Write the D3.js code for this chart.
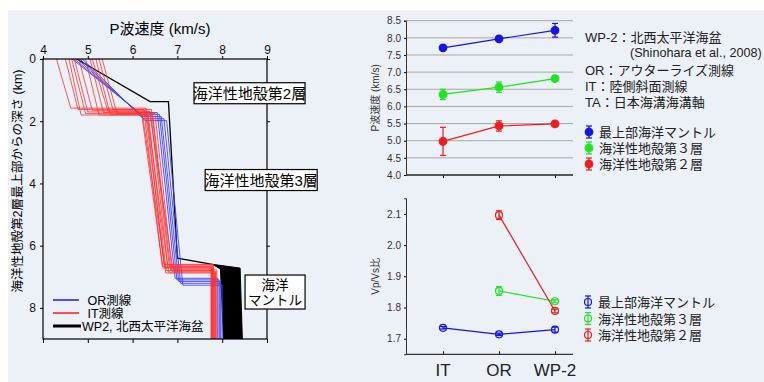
<!DOCTYPE html>
<html>
<head>
<meta charset="utf-8">
<script src="https://cdn.jsdelivr.net/npm/d3@7"></script>
<style>
  body { margin: 0; background: #fff; }
  svg text { font-family: "Liberation Sans", "Noto Sans CJK JP", sans-serif; }
</style>
</head>
<body>
<div id="chart"></div>
<script>
// ---- left panel: P-wave velocity profiles ----
const velTicks = [4, 5, 6, 7, 8, 9];
const depthTicks = [0, 2, 4, 6, 8];

// each profile: [v top, v bottom L2, depth L2, v top L3, v bottom L3, depth moho, v mantle]
const orProfiles = [
    [4.65, 6.15, 1.72, 6.55, 6.95, 7.05, 7.90],
    [4.70, 6.18, 1.78, 6.60, 6.99, 7.10, 7.93],
    [4.76, 6.22, 1.85, 6.64, 7.03, 7.15, 7.95],
    [4.82, 6.25, 1.92, 6.70, 7.07, 7.21, 7.97],
    [4.88, 6.28, 1.98, 6.76, 7.12, 7.27, 8.00]
];
const itProfiles = [
    [4.30, 4.62, 1.58, 6.30, 6.70, 6.60, 7.80],
    [4.50, 4.78, 1.62, 6.25, 6.66, 6.66, 7.76],
    [4.58, 4.85, 1.80, 6.35, 6.75, 6.80, 7.82],
    [4.64, 4.95, 1.75, 6.20, 6.68, 6.72, 7.78],
    [4.70, 5.00, 1.70, 6.40, 6.80, 6.85, 7.85],
    [4.80, 5.10, 1.65, 6.28, 6.72, 6.70, 7.75],
    [4.95, 5.25, 1.80, 6.45, 6.85, 6.78, 7.88],
    [5.05, 5.35, 1.72, 6.32, 6.78, 6.62, 7.80],
    [5.10, 5.45, 1.68, 6.38, 6.90, 6.75, 7.77],
    [5.18, 5.50, 1.78, 6.22, 6.74, 6.88, 7.83],
    [5.25, 5.56, 1.62, 6.42, 6.82, 6.66, 7.79],
    [5.32, 5.65, 1.75, 6.50, 6.88, 6.82, 7.86]
];
const wp2Line = [[4.75, 0], [6.39, 1.37], [6.80, 1.37], [7.00, 6.40], [7.78, 6.60]];
const wp2Mantle = [[7.78, 6.60], [8.40, 6.72], [8.45, 9], [8.03, 9], [7.96, 6.75]];

// label boxes: centre in data units (velocity, depth)
const layerLabels = [
    { text: ["海洋性地殻第2層"], v: 8.61, d: 1.10, w: 111, size: 15 },
    { text: ["海洋性地殻第3層"], v: 8.87, d: 3.89, w: 112, size: 15 },
    { text: ["海洋", "マントル"], v: 9.18, d: 7.49, w: 60, size: 13.5 }
];

// ---- right panels ----
const sites = ["IT", "OR", "WP-2"];
const seriesNames = ["最上部海洋マントル", "海洋性地殻第３層", "海洋性地殻第２層"];
const seriesColors = ["#1414e6", "#1ee61e", "#ee1c1c"];

const vpTicks = [4.0, 4.5, 5.0, 5.5, 6.0, 6.5, 7.0, 7.5, 8.0, 8.5];
const vpMantle = [7.71, 7.97, 8.22];
const vpMantleErr = [0.05, 0.02, 0.20];
const vpLayer3 = [6.35, 6.56, 6.81];
const vpLayer3Err = [0.15, 0.15, 0.03];
const vpLayer2 = [4.98, 5.43, 5.49];
const vpLayer2Err = [0.41, 0.15, 0.02];

const ratioTicks = [1.7, 1.8, 1.9, 2.0, 2.1];
const ratioMantle = [1.735, 1.714, 1.729];
const ratioMantleErr = [0.004, 0.004, 0.008];
const ratioLayer3 = [null, 1.853, 1.820];
const ratioLayer3Err = [0, 0.014, 0.005];
const ratioLayer2 = [null, 2.096, 1.789];
const ratioLayer2Err = [0, 0.014, 0.006];

const notes = [
    "WP-2：北西太平洋海盆",
    "(Shinohara et al., 2008)",
    "OR：アウターライズ測線",
    "IT：陸側斜面測線",
    "TA：日本海溝海溝軸"
];

const svg = d3.select("#chart").append("svg")
    .attr("width", 764)
    .attr("height", 382);

svg.append("rect")
    .attr("x", 8).attr("y", 10)
    .attr("width", 756).attr("height", 372)
    .attr("fill", "#ecf0f7");

// ================= left panel =================
let x = d3.scaleLinear().domain([4, 9]).range([43, 267]);
let y = d3.scaleLinear().domain([0, 9]).range([59, 339]);

svg.append("defs").append("clipPath").attr("id", "plotClip")
    .append("rect")
    .attr("x", x(4)).attr("y", y(0))
    .attr("width", x(9) - x(4)).attr("height", y(9) - y(0));

let line = d3.line().x(d => x(d[0])).y(d => y(d[1]));

function profilePoints(p) {
    return [[p[0], 0], [p[1], p[2]], [p[3], p[2]], [p[4], p[5]], [p[6], p[5]], [p[6], 9]];
}

let plot = svg.append("g").attr("clip-path", "url(#plotClip)");

plot.append("path")
    .attr("d", line(wp2Mantle) + "Z")
    .attr("fill", "#000")
    .attr("stroke", "#000");
plot.append("path")
    .attr("d", line(wp2Line))
    .attr("fill", "none")
    .attr("stroke", "#000")
    .attr("stroke-width", 1.3);

plot.selectAll(".or")
    .data(orProfiles)
    .enter()
    .append("path")
    .attr("class", "or")
    .attr("d", d => line(profilePoints(d)))
    .attr("fill", "none")
    .attr("stroke", "#3a3aff")
    .attr("stroke-opacity", 0.85)
    .attr("stroke-width", 1);

plot.selectAll(".it")
    .data(itProfiles)
    .enter()
    .append("path")
    .attr("class", "it")
    .attr("d", d => line(profilePoints(d)))
    .attr("fill", "none")
    .attr("stroke", "#ff3030")
    .attr("stroke-opacity", 0.8)
    .attr("stroke-width", 1);

// frame and axes
svg.append("rect")
    .attr("x", x(4)).attr("y", y(0))
    .attr("width", x(9) - x(4)).attr("height", y(9) - y(0))
    .attr("fill", "none")
    .attr("stroke", "#000")
    .attr("stroke-width", 1.2);

let topAxis = svg.append("g")
    .attr("transform", `translate(0, ${y(0)})`)
    .call(d3.axisTop(x).tickValues(velTicks).tickFormat(d3.format("d")).tickSize(3).tickPadding(2));
let leftAxis = svg.append("g")
    .attr("transform", `translate(${x(4)}, 0)`)
    .call(d3.axisLeft(y).tickValues(depthTicks).tickFormat(d3.format("d")).tickSize(3).tickPadding(4));
let bottomAxis = svg.append("g")
    .attr("transform", `translate(0, ${y(9)})`)
    .call(d3.axisBottom(x).tickValues(velTicks).tickSize(4).tickFormat(""));
let rightAxis = svg.append("g")
    .attr("transform", `translate(${x(9)}, 0)`)
    .call(d3.axisRight(y).tickValues(depthTicks).tickSize(3).tickFormat(""));

[topAxis, leftAxis, bottomAxis, rightAxis].forEach(a => {
    a.select(".domain").remove();
    a.selectAll("text").style("font-size", "12px").attr("fill", "#111");
});

svg.append("text")
    .attr("x", 160).attr("y", 34)
    .attr("text-anchor", "middle")
    .style("font-size", "15px")
    .text("P波速度 (km/s)");

svg.append("text")
    .attr("transform", "translate(22, 181) rotate(-90)")
    .attr("text-anchor", "middle")
    .style("font-size", "12.5px")
    .text("海洋性地殻第2層最上部からの深さ (km)");

// layer label boxes
layerLabels.forEach(lab => {
    let h = lab.text.length === 1 ? 21 : 34;
    let bx = x(lab.v) - lab.w / 2;
    let by = y(lab.d) - h / 2;
    svg.append("rect")
        .attr("x", bx).attr("y", by)
        .attr("width", lab.w).attr("height", h)
        .attr("fill", "#fff")
        .attr("stroke", "#000")
        .attr("stroke-width", 1.2);
    lab.text.forEach((t, i) => {
        svg.append("text")
            .attr("x", x(lab.v))
            .attr("y", by + (lab.text.length === 1 ? 16 : 15 + i * 14.5))
            .attr("text-anchor", "middle")
            .style("font-size", lab.size + "px")
            .text(t);
    });
});

// legend
let legendItems = [
    { label: " OR測線", color: "#3a3aff", w: 1.8 },
    { label: " IT測線", color: "#ff3a3a", w: 1.8 },
    { label: "WP2, 北西太平洋海盆", color: "#000", w: 3 }
];
legendItems.forEach((it, i) => {
    let ly = 300 + i * 13;
    svg.append("line")
        .attr("x1", 53).attr("x2", i === 2 ? 81 : 79)
        .attr("y1", ly).attr("y2", ly)
        .attr("stroke", it.color)
        .attr("stroke-width", it.w);
    svg.append("text")
        .attr("x", i === 2 ? 82 : 84)
        .attr("y", ly + 4.5)
        .style("font-size", "12.5px")
        .style("white-space", "pre")
        .text(it.label);
});

// ================= right panels =================
let xr = d3.scalePoint().domain(sites).range([443, 555]);
let axisLeftX = 406, axisRightX = 573;

function errorSeries(g, yScale, vals, errs, color, filled, r) {
    let pts = sites.map((s, i) => ({ s: s, v: vals[i], e: errs[i] })).filter(d => d.v !== null);
    g.append("path")
        .attr("d", d3.line().x(d => xr(d.s)).y(d => yScale(d.v))(pts))
        .attr("fill", "none")
        .attr("stroke", color)
        .attr("stroke-width", 1.2);
    pts.forEach(d => {
        g.append("line")
            .attr("x1", xr(d.s)).attr("x2", xr(d.s))
            .attr("y1", yScale(d.v - d.e)).attr("y2", yScale(d.v + d.e))
            .attr("stroke", color).attr("stroke-width", 1.2);
        [d.v - d.e, d.v + d.e].forEach(c => {
            g.append("line")
                .attr("x1", xr(d.s) - 3).attr("x2", xr(d.s) + 3)
                .attr("y1", yScale(c)).attr("y2", yScale(c))
                .attr("stroke", color).attr("stroke-width", 1.2);
        });
        g.append("circle")
            .attr("cx", xr(d.s)).attr("cy", yScale(d.v))
            .attr("r", r)
            .attr("fill", filled ? color : "none")
            .attr("stroke", color)
            .attr("stroke-width", 1.2);
    });
}

function legendMarker(g, lx, ly, color, filled, label) {
    g.append("line")
        .attr("x1", lx).attr("x2", lx)
        .attr("y1", ly - 6).attr("y2", ly + 6)
        .attr("stroke", color).attr("stroke-width", 1.2);
    [ly - 6, ly + 6].forEach(c => {
        g.append("line")
            .attr("x1", lx - 3).attr("x2", lx + 3)
            .attr("y1", c).attr("y2", c)
            .attr("stroke", color).attr("stroke-width", 1.2);
    });
    g.append("circle")
        .attr("cx", lx).attr("cy", ly).attr("r", filled ? 3.8 : 3.5)
        .attr("fill", filled ? color : "none")
        .attr("stroke", color).attr("stroke-width", 1.2);
    g.append("text")
        .attr("x", lx + 10).attr("y", ly + 5)
        .style("font-size", "13px")
        .attr("fill", "#222")
        .text(label);
}

// ---- top: Vp ----
let yTop = d3.scaleLinear().domain([4, 8.5]).range([175, 20.7]);
let topG = svg.append("g");

topG.selectAll(".grid")
    .data(vpTicks)
    .enter()
    .append("line")
    .attr("class", "grid")
    .attr("x1", axisLeftX).attr("x2", axisRightX)
    .attr("y1", d => yTop(d)).attr("y2", d => yTop(d))
    .attr("stroke", "#a8a8a8")
    .attr("stroke-width", 1);

let yTopAxis = topG.append("g")
    .attr("transform", `translate(${axisLeftX}, 0)`)
    .call(d3.axisLeft(yTop).tickValues(vpTicks).tickFormat(d3.format(".1f")).tickSize(2).tickPadding(3));
yTopAxis.select(".domain").attr("stroke", "#333");
yTopAxis.selectAll("text").style("font-size", "10px").attr("fill", "#333");

let xTopAxis = topG.append("g")
    .attr("transform", `translate(0, ${yTop(4)})`)
    .call(d3.axisBottom(xr).tickSize(3).tickFormat(""));
xTopAxis.select(".domain").remove();
topG.append("line")
    .attr("x1", axisLeftX).attr("x2", axisRightX)
    .attr("y1", yTop(4)).attr("y2", yTop(4))
    .attr("stroke", "#333").attr("stroke-width", 1.3);

topG.append("text")
    .attr("transform", `translate(379, ${(yTop(4) + yTop(8.5)) / 2}) rotate(-90)`)
    .attr("text-anchor", "middle")
    .style("font-size", "10px")
    .attr("fill", "#333")
    .text("P波速度 (km/s)");

errorSeries(topG, yTop, vpMantle, vpMantleErr, seriesColors[0], true, 3.8);
errorSeries(topG, yTop, vpLayer3, vpLayer3Err, seriesColors[1], true, 3.8);
errorSeries(topG, yTop, vpLayer2, vpLayer2Err, seriesColors[2], true, 3.8);

let noteX = [585, 630, 585, 585, 585];
let noteY = [42, 57, 75, 91, 107];
notes.forEach((t, i) => {
    svg.append("text")
        .attr("x", noteX[i]).attr("y", noteY[i])
        .style("font-size", i === 1 ? "12.6px" : "13px")
        .attr("fill", "#222")
        .text(t);
});

seriesNames.forEach((n, i) => {
    legendMarker(svg, 589, 132 + i * 16, seriesColors[i], true, n);
});

// ---- bottom: Vp/Vs ----
let yBot = d3.scaleLinear().domain([1.65, 2.15]).range([354.3, 198.3]);
let botG = svg.append("g");

let yBotAxis = botG.append("g")
    .attr("transform", `translate(${axisLeftX}, 0)`)
    .call(d3.axisLeft(yBot).tickValues(ratioTicks).tickFormat(d3.format(".1f")).tickSize(2).tickPadding(3));
yBotAxis.select(".domain").attr("stroke", "#333");
yBotAxis.selectAll("text").style("font-size", "10px").attr("fill", "#333");

let xBotAxis = botG.append("g")
    .attr("transform", `translate(0, ${yBot(1.65)})`)
    .call(d3.axisTop(xr).tickSize(3).tickFormat(""));
xBotAxis.select(".domain").remove();
botG.append("line")
    .attr("x1", axisLeftX).attr("x2", axisRightX)
    .attr("y1", yBot(1.65)).attr("y2", yBot(1.65))
    .attr("stroke", "#333").attr("stroke-width", 1.3);

botG.selectAll(".site")
    .data(sites)
    .enter()
    .append("text")
    .attr("class", "site")
    .attr("x", d => xr(d))
    .attr("y", 376)
    .attr("text-anchor", "middle")
    .style("font-size", "17px")
    .attr("fill", "#222")
    .text(d => d);

botG.append("text")
    .attr("transform", `translate(379, ${(yBot(1.65) + yBot(2.15)) / 2}) rotate(-90)`)
    .attr("text-anchor", "middle")
    .style("font-size", "10px")
    .attr("fill", "#333")
    .text("Vp/Vs比");

errorSeries(botG, yBot, ratioMantle, ratioMantleErr, seriesColors[0], false, 3.5);
errorSeries(botG, yBot, ratioLayer3, ratioLayer3Err, seriesColors[1], false, 3.5);
errorSeries(botG, yBot, ratioLayer2, ratioLayer2Err, seriesColors[2], false, 3.5);

seriesNames.forEach((n, i) => {
    legendMarker(svg, 588, 302 + i * 16.5, seriesColors[i], false, n);
});
</script>
</body>
</html>
